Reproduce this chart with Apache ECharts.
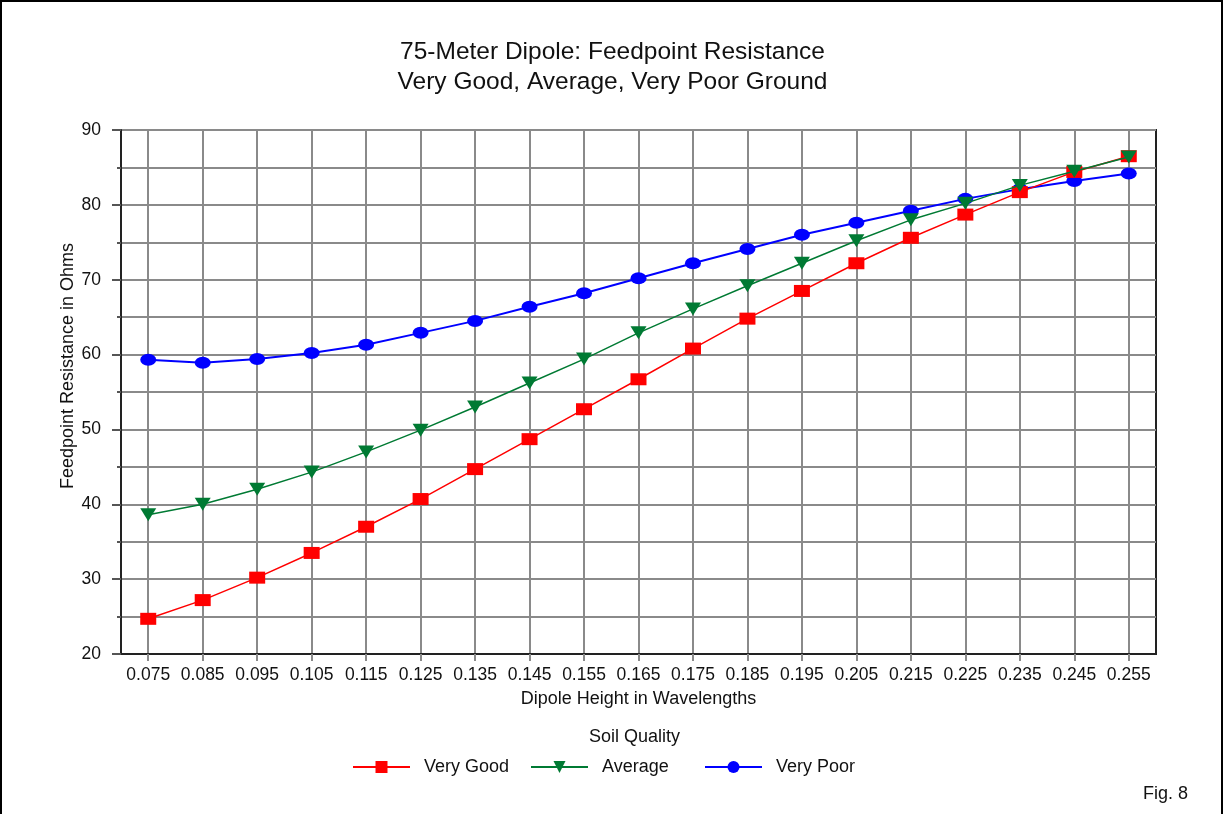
<!DOCTYPE html>
<html>
<head>
<meta charset="utf-8">
<title>75-Meter Dipole: Feedpoint Resistance</title>
<script src="https://cdn.jsdelivr.net/npm/echarts@6/dist/echarts.min.js"></script>
<style>
  html, body { margin: 0; padding: 0; background: #fff; }
  #chart { width: 1225px; height: 814px; }
</style>
</head>
<body>
<div id="chart"></div>
<script>
// Antenna height above ground, in wavelengths
const heights = ['0.075', '0.085', '0.095', '0.105', '0.115', '0.125', '0.135', '0.145', '0.155', '0.165',
                 '0.175', '0.185', '0.195', '0.205', '0.215', '0.225', '0.235', '0.245', '0.255'];

// Feedpoint resistance (ohms) for each soil quality
const veryGood = [24.7, 27.2, 30.2, 33.5, 37.0, 40.7, 44.7, 48.7, 52.7, 56.7,
                  60.8, 64.8, 68.5, 72.2, 75.6, 78.7, 81.7, 84.4, 86.5];
const average  = [38.6, 40.0, 42.0, 44.3, 47.0, 49.9, 53.0, 56.2, 59.4, 62.9,
                  66.1, 69.2, 72.2, 75.2, 78.0, 80.2, 82.6, 84.5, 86.4];
const veryPoor = [59.3, 58.9, 59.4, 60.2, 61.3, 62.9, 64.5, 66.4, 68.2, 70.2,
                  72.2, 74.1, 76.0, 77.6, 79.2, 80.8, 82.1, 83.2, 84.2];

const seriesNames = ['Very Good', 'Average', 'Very Poor'];

const FONT = '"Liberation Sans", Arial, sans-serif';
const GRID_COLOR = '#8a8a8a';

// One legend block per series, laid out in fixed-width columns
const legendColumns = [352, 530, 704];
const legends = seriesNames.map((name, i) => ({
  data: [name],
  left: legendColumns[i],
  top: 758,
  padding: 0,
  itemWidth: 57,
  itemHeight: 15,
  textStyle: { fontFamily: FONT, fontSize: 18, color: '#111', padding: [0, 0, 0, 9] }
}));

const chart = echarts.init(document.getElementById('chart'), null, { renderer: 'canvas' });

chart.setOption({
  backgroundColor: '#ffffff',
  animation: false,
  title: [
    {
      text: '75-Meter Dipole: Feedpoint Resistance\nVery Good, Average, Very Poor Ground',
      left: 'center',
      top: 32,
      textStyle: { fontFamily: FONT, fontSize: 24.5, fontWeight: 'normal', color: '#111', lineHeight: 30 }
    },
    {
      text: 'Soil Quality',
      left: 589,
      top: 728,
      padding: 0,
      textStyle: { fontFamily: FONT, fontSize: 18, fontWeight: 'normal', color: '#111' }
    },
    {
      text: 'Fig. 8',
      left: 1143,
      top: 785,
      padding: 0,
      textStyle: { fontFamily: FONT, fontSize: 18, fontWeight: 'normal', color: '#111' }
    }
  ],
  legend: legends,
  grid: {
    left: 121,
    top: 130,
    right: 69,
    bottom: 160,
    show: true,
    borderColor: '#222',
    borderWidth: 2,
    containLabel: false
  },
  xAxis: {
    type: 'category',
    data: heights,
    boundaryGap: true,
    name: 'Dipole Height in Wavelengths',
    nameLocation: 'middle',
    nameGap: 36,
    nameTextStyle: { fontFamily: FONT, fontSize: 18, color: '#111' },
    axisLine: { show: true, lineStyle: { color: '#222', width: 2 } },
    axisTick: { show: true, alignWithLabel: true, length: 7, lineStyle: { color: GRID_COLOR, width: 2 } },
    axisLabel: { interval: 0, margin: 12, fontFamily: FONT, fontSize: 17.5, color: '#111' },
    splitLine: { show: true, alignWithLabel: true, interval: 0, lineStyle: { color: GRID_COLOR, width: 2 } }
  },
  yAxis: {
    type: 'value',
    min: 20,
    max: 90,
    interval: 10,
    axisLine: { show: true, lineStyle: { color: '#222', width: 2 } },
    axisTick: { show: true, length: 9, lineStyle: { color: '#555', width: 2 } },
    minorTick: { show: true, splitNumber: 2, length: 4, lineStyle: { color: '#555', width: 2 } },
    axisLabel: { margin: 20, fontFamily: FONT, fontSize: 17.5, color: '#111' },
    splitLine: { show: true, lineStyle: { color: GRID_COLOR, width: 2 } },
    minorSplitLine: { show: true, lineStyle: { color: GRID_COLOR, width: 2 } }
  },
  graphic: [
    {
      type: 'text',
      x: 68,
      y: 366,
      rotation: Math.PI / 2,
      style: {
        text: 'Feedpoint Resistance in Ohms',
        fontFamily: FONT,
        fontSize: 18,
        fill: '#111',
        align: 'center',
        verticalAlign: 'middle'
      }
    },
    {
      type: 'rect',
      shape: { x: 1, y: 1, width: 1221, height: 830 },
      style: { fill: 'none', stroke: '#000', lineWidth: 2 },
      silent: true
    }
  ],
  series: [
    {
      name: seriesNames[0],
      type: 'line',
      data: veryGood,
      symbol: 'rect',
      symbolSize: [16, 12],
      itemStyle: { color: '#ff0000' },
      lineStyle: { color: '#ff0000', width: 1.5 },
      z: 3
    },
    {
      name: seriesNames[1],
      type: 'line',
      data: average,
      symbol: 'triangle',
      symbolRotate: 180,
      symbolSize: [16, 13],
      itemStyle: { color: '#007a33' },
      lineStyle: { color: '#007a33', width: 1.5 },
      z: 4
    },
    {
      name: seriesNames[2],
      type: 'line',
      data: veryPoor,
      symbol: 'circle',
      symbolSize: [16, 12],
      itemStyle: { color: '#0000ff' },
      lineStyle: { color: '#0000ff', width: 2 },
      z: 2
    }
  ]
});
</script>
</body>
</html>
